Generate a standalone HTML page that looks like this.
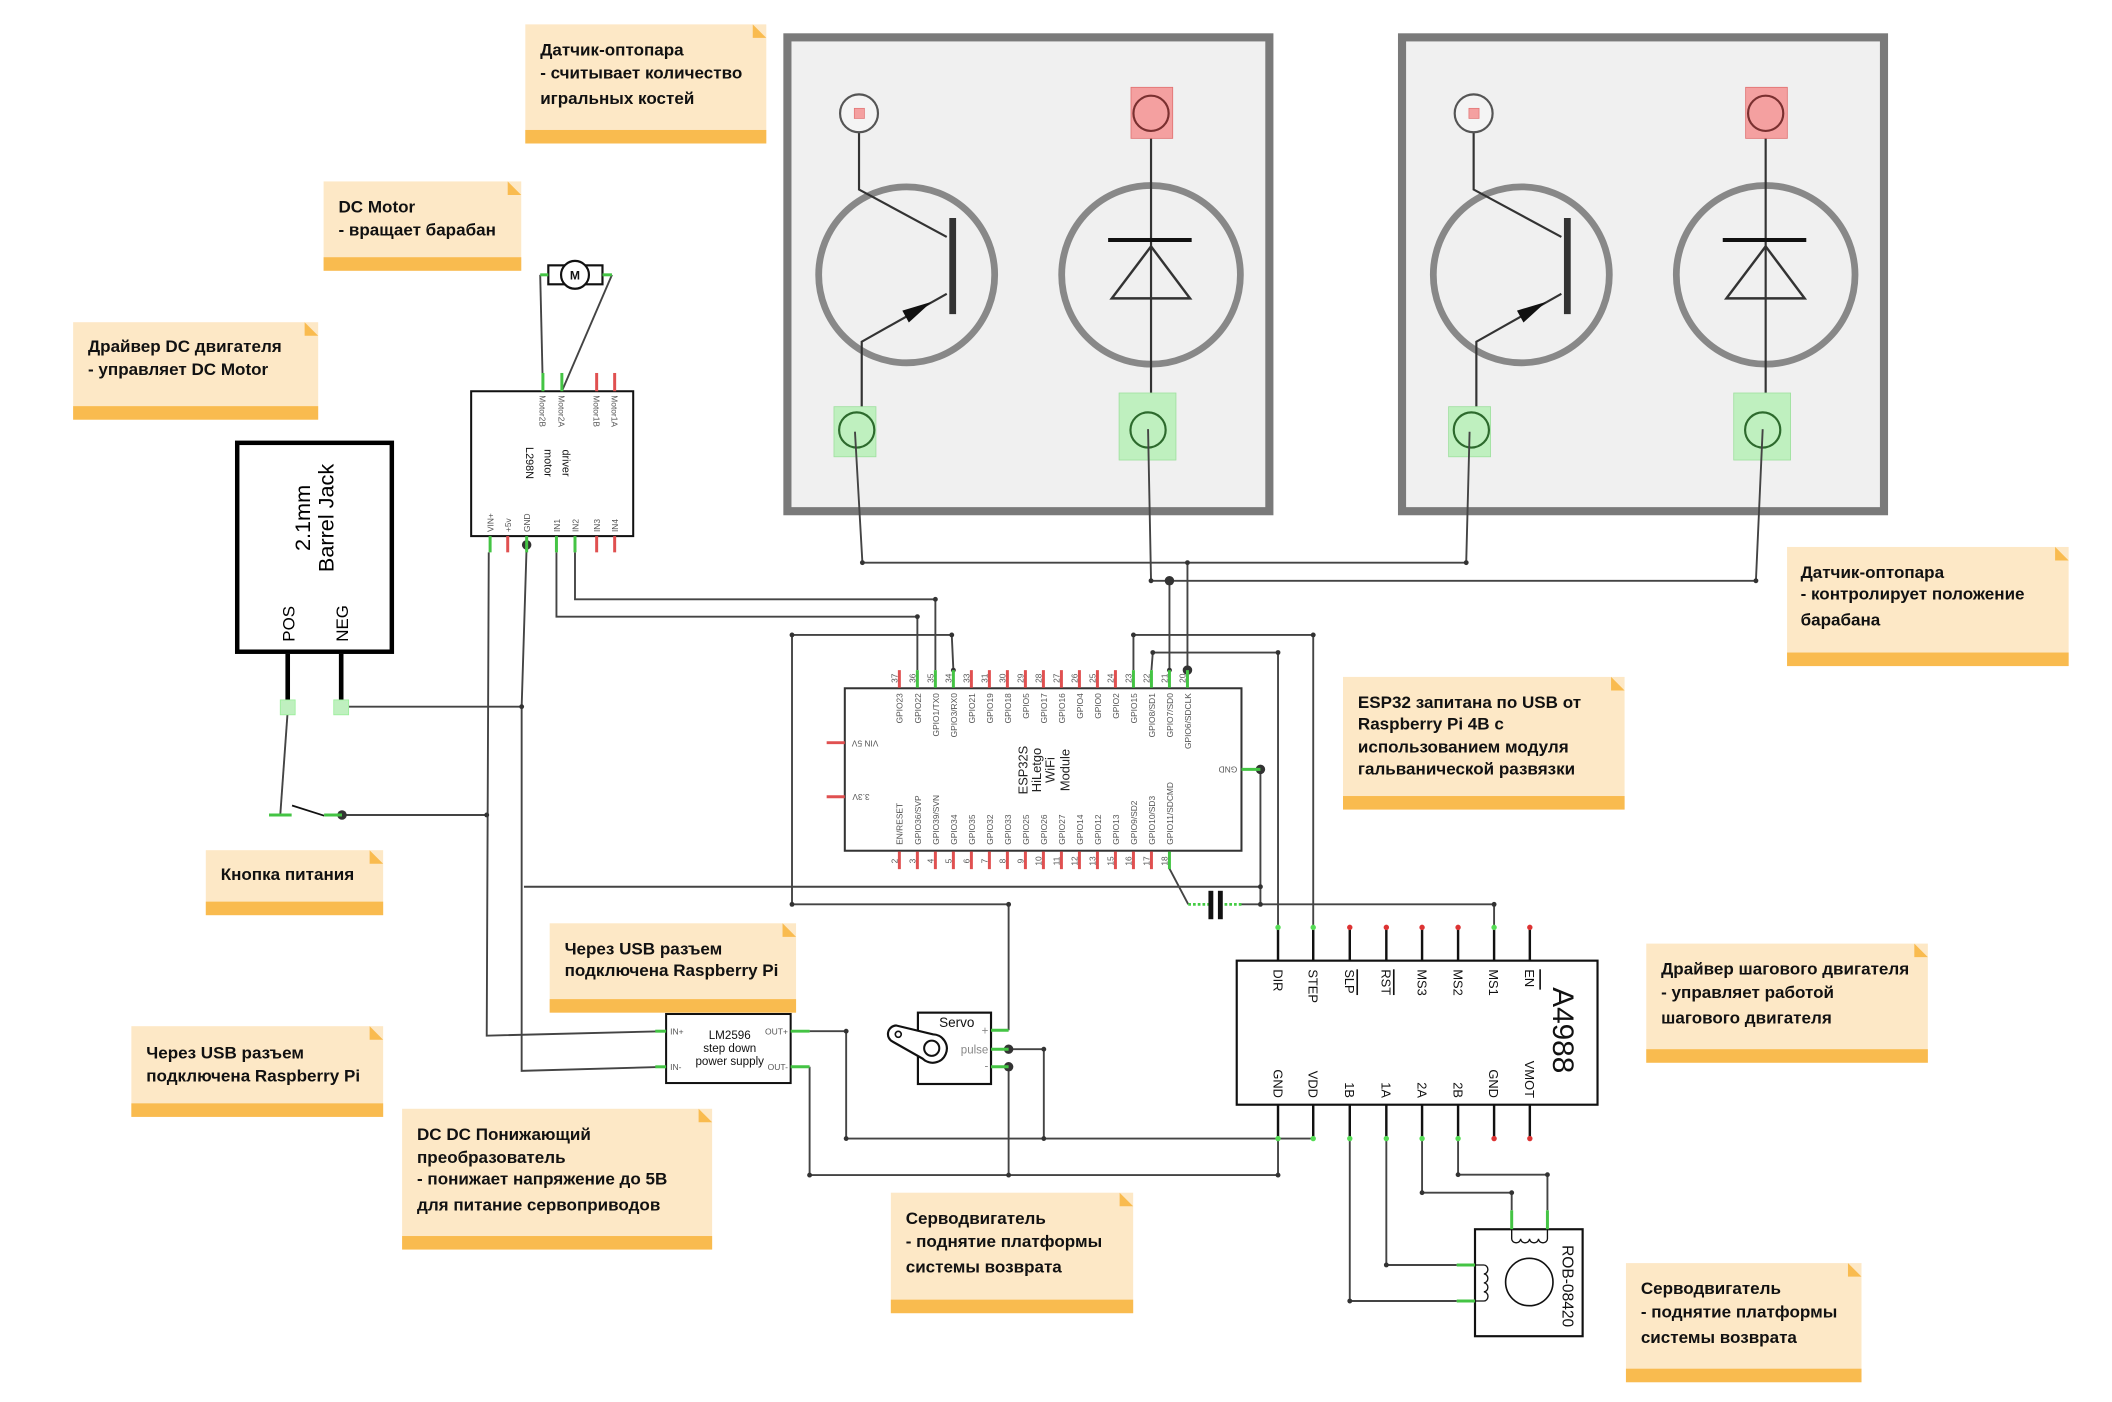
<!DOCTYPE html>
<html><head><meta charset="utf-8"><style>
html,body{margin:0;padding:0;background:#fff;}
svg{display:block;}
text{font-family:"Liberation Sans",sans-serif;}
.n{font-weight:bold;font-size:12.6px;fill:#111;}
.w{stroke:#444;stroke-width:1.4;fill:none;}
.pr{stroke:#e05050;stroke-width:2.2;}
.pg{stroke:#44c444;stroke-width:2.2;}
.pk{stroke:#111;stroke-width:1.8;}
.t6{font-size:6.2px;fill:#555;}
.t7{font-size:7px;fill:#333;}
.a{font-size:9.5px;fill:#111;}
</style></head><body>
<svg width="2112" height="1402" viewBox="0 0 1560 1035.6" xmlns="http://www.w3.org/2000/svg">
<rect width="1560" height="1036" fill="#fff"/>

<!-- NOTES -->
<g>
<rect x="388" y="18" width="178" height="88" fill="#fde8c6"/><rect x="388" y="96" width="178" height="10" fill="#f9bb4f"/><path d="M556 18 L566 28 L556 28 Z" fill="#f9bb4f"/>
<text class="n" x="399" y="41">Датчик-оптопара</text><text class="n" x="399" y="58">- считывает количество</text><text class="n" x="399" y="77">игральных костей</text>

<rect x="239" y="134" width="146" height="66" fill="#fde8c6"/><rect x="239" y="190" width="146" height="10" fill="#f9bb4f"/><path d="M375 134 L385 144 L375 144 Z" fill="#f9bb4f"/>
<text class="n" x="250" y="157">DC Motor</text><text class="n" x="250" y="174">- вращает барабан</text>

<rect x="54" y="238" width="181" height="72" fill="#fde8c6"/><rect x="54" y="300" width="181" height="10" fill="#f9bb4f"/><path d="M225 238 L235 248 L225 248 Z" fill="#f9bb4f"/>
<text class="n" x="65" y="260">Драйвер DC двигателя</text><text class="n" x="65" y="277">- управляет DC Motor</text>

<rect x="1320" y="404" width="208" height="88" fill="#fde8c6"/><rect x="1320" y="482" width="208" height="10" fill="#f9bb4f"/><path d="M1518 404 L1528 414 L1518 414 Z" fill="#f9bb4f"/>
<text class="n" x="1330" y="427">Датчик-оптопара</text><text class="n" x="1330" y="443">- контролирует положение</text><text class="n" x="1330" y="462">барабана</text>

<rect x="992" y="500" width="208" height="98" fill="#fde8c6"/><rect x="992" y="588" width="208" height="10" fill="#f9bb4f"/><path d="M1190 500 L1200 510 L1190 510 Z" fill="#f9bb4f"/>
<text class="n" x="1003" y="523">ESP32 запитана по USB от</text><text class="n" x="1003" y="539">Raspberry Pi 4B c</text><text class="n" x="1003" y="556">использованием модуля</text><text class="n" x="1003" y="572">гальванической развязки</text>

<rect x="152" y="628" width="131" height="48" fill="#fde8c6"/><rect x="152" y="666" width="131" height="10" fill="#f9bb4f"/><path d="M273 628 L283 638 L273 638 Z" fill="#f9bb4f"/>
<text class="n" x="163" y="650">Кнопка питания</text>

<rect x="406" y="682" width="182" height="66" fill="#fde8c6"/><rect x="406" y="738" width="182" height="10" fill="#f9bb4f"/><path d="M578 682 L588 692 L578 692 Z" fill="#f9bb4f"/>
<text class="n" x="417" y="705">Через USB разъем</text><text class="n" x="417" y="721">подключена Raspberry Pi</text>

<rect x="97" y="758" width="186" height="67" fill="#fde8c6"/><rect x="97" y="815" width="186" height="10" fill="#f9bb4f"/><path d="M273 758 L283 768 L273 768 Z" fill="#f9bb4f"/>
<text class="n" x="108" y="782">Через USB разъем</text><text class="n" x="108" y="799">подключена Raspberry Pi</text>

<rect x="297" y="819" width="229" height="104" fill="#fde8c6"/><rect x="297" y="913" width="229" height="10" fill="#f9bb4f"/><path d="M516 819 L526 829 L516 829 Z" fill="#f9bb4f"/>
<text class="n" x="308" y="842">DC DC Понижающий</text><text class="n" x="308" y="859">преобразователь</text><text class="n" x="308" y="875">- понижает напряжение до 5В</text><text class="n" x="308" y="894">для питание сервоприводов</text>

<rect x="658" y="881" width="179" height="89" fill="#fde8c6"/><rect x="658" y="960" width="179" height="10" fill="#f9bb4f"/><path d="M827 881 L837 891 L827 891 Z" fill="#f9bb4f"/>
<text class="n" x="669" y="904">Серводвигатель</text><text class="n" x="669" y="921">- поднятие платформы</text><text class="n" x="669" y="940">системы возврата</text>

<rect x="1216" y="697" width="208" height="88" fill="#fde8c6"/><rect x="1216" y="775" width="208" height="10" fill="#f9bb4f"/><path d="M1414 697 L1424 707 L1414 707 Z" fill="#f9bb4f"/>
<text class="n" x="1227" y="720">Драйвер шагового двигателя</text><text class="n" x="1227" y="737">- управляет работой</text><text class="n" x="1227" y="756">шагового двигателя</text>

<rect x="1201" y="933" width="174" height="88" fill="#fde8c6"/><rect x="1201" y="1011" width="174" height="10" fill="#f9bb4f"/><path d="M1365 933 L1375 943 L1365 943 Z" fill="#f9bb4f"/>
<text class="n" x="1212" y="956">Серводвигатель</text><text class="n" x="1212" y="973">- поднятие платформы</text><text class="n" x="1212" y="992">системы возврата</text>
</g>

<!-- OPTOCOUPLERS -->
<defs>
<g id="opto">
<rect x="581.6" y="27.6" width="356" height="350" fill="#f0f0f0" stroke="#7a7a7a" stroke-width="6"/>
<circle cx="669.7" cy="203" r="65" fill="none" stroke="#888" stroke-width="5"/>
<polyline points="634.5,96 634.5,140 699.3,175" fill="none" stroke="#333" stroke-width="1.6"/>
<line x1="703.7" y1="161" x2="703.7" y2="232" stroke="#333" stroke-width="5"/>
<polyline points="699.3,217 636.5,252.4 636.5,306" fill="none" stroke="#333" stroke-width="1.6"/>
<polygon points="688,223 671.3,238.2 666.5,229.4" fill="#111"/>
<circle cx="634.5" cy="83.7" r="14" fill="#f4f4f4" stroke="#555" stroke-width="1.6"/>
<rect x="631" y="80" width="7.5" height="7.5" fill="#f4a0a0" stroke="#e07070" stroke-width="0.5"/>
<rect x="616" y="300.4" width="31" height="37" fill="#bff0bf" stroke="#9ee09e" stroke-width="0.6"/>
<circle cx="632.8" cy="317.6" r="13" fill="#bff0bf" stroke="#2d6a2d" stroke-width="1.6"/>
<circle cx="850.2" cy="203" r="66" fill="none" stroke="#888" stroke-width="5"/>
<line x1="850.2" y1="95" x2="850.2" y2="306" stroke="#333" stroke-width="1.6"/>
<line x1="818.5" y1="177.3" x2="880.2" y2="177.3" stroke="#111" stroke-width="3"/>
<polygon points="850.2,182 821.2,220.4 879,220.4" fill="none" stroke="#333" stroke-width="1.8"/>
<rect x="835.4" y="64.5" width="30.8" height="37.7" fill="#f4a0a0" stroke="#e07070" stroke-width="0.6"/>
<circle cx="850.2" cy="83.7" r="13" fill="#f4a0a0" stroke="#7a3030" stroke-width="1.6"/>
<rect x="826.6" y="290.3" width="42" height="49.5" fill="#bff0bf" stroke="#9ee09e" stroke-width="0.6"/>
<circle cx="848" cy="317.6" r="13" fill="#bff0bf" stroke="#2d6a2d" stroke-width="1.6"/>
</g>
</defs>
<use href="#opto"/>
<use href="#opto" transform="translate(454,0)"/>

<!-- WIRES -->
<g class="w">
<polyline points="631.5,318.9 637,415.6 1083,415.6 1085.5,318.9"/>
<polyline points="848,317 850.2,429 1297,429 1302,317"/>
<polyline points="877.1,495 877.1,415.6"/>
<polyline points="863.8,495 863.8,429"/>
<polyline points="677.6,495 677.6,455.5 411,455.5 411,408"/>
<polyline points="690.9,495 690.9,442.7 424.7,442.7 424.7,408"/>
<polyline points="704.2,495 703,469 585,469 585,668 745,668 745,761"/>
<polyline points="837.2,495 837.2,469 970,469 970,684.5"/>
<polyline points="850.5,495 851.5,482 944,482 944,684.5"/>
<polyline points="863.7,641.4 877.7,668"/>
<polyline points="917,668 1103.6,668 1103.6,684.5"/>
<polyline points="917,568.3 931,568.3 931,668"/>
<polyline points="387,655 931,655"/>
<!-- motor -->
<line x1="399" y1="203" x2="401" y2="289"/>
<line x1="452" y1="203" x2="415" y2="289"/>
<!-- power -->
<polyline points="361,408 359.5,765 492,761.7"/>
<polyline points="389,402.5 385.3,522 385.3,791 492,788"/>
<polyline points="252,522 385.3,522"/>
<polyline points="252.6,602 359.5,602"/>
<polyline points="212.5,525 207,602"/>
<!-- LM2596 out -->
<polyline points="598,761.7 625,761.7 625,841 970,841"/>
<polyline points="598,788 598,868 944,868 944,841"/>
<polyline points="745,775 771,775 771,841"/>
<polyline points="745,788 745,868"/>
<!-- stepper -->
<polyline points="997,841 997,961 1076,961"/>
<polyline points="1024,841 1024,934.4 1076,934.4"/>
<polyline points="1050.4,841 1050.4,881 1116.6,881 1116.6,894"/>
<polyline points="1077,841 1077,867.7 1143,867.7 1143,894"/>
</g>
<!-- dots -->
<g fill="#333">
<circle cx="637" cy="415.6" r="1.8"/><circle cx="1083" cy="415.6" r="1.8"/><circle cx="877.1" cy="415.6" r="1.8"/>
<circle cx="850.2" cy="429" r="1.8"/><circle cx="863.8" cy="429" r="3.5"/><circle cx="1297" cy="429" r="1.8"/>
<circle cx="877.1" cy="495" r="3.5"/><circle cx="863.8" cy="495" r="1.8"/><circle cx="704.2" cy="495" r="1.8"/>
<circle cx="585" cy="469" r="1.8"/><circle cx="703" cy="469" r="1.8"/><circle cx="837.2" cy="469" r="1.8"/><circle cx="970" cy="469" r="1.8"/>
<circle cx="851.5" cy="482" r="1.8"/><circle cx="944" cy="482" r="1.8"/><circle cx="677.6" cy="455.5" r="1.8"/><circle cx="690.9" cy="442.7" r="1.8"/>
<circle cx="931" cy="568.3" r="3.5"/><circle cx="931" cy="668" r="1.8"/><circle cx="931" cy="655" r="1.8"/><circle cx="585" cy="668" r="1.8"/><circle cx="745" cy="668" r="1.8"/><circle cx="1103.6" cy="668" r="1.8"/>
<circle cx="389" cy="402.5" r="3.5"/><circle cx="385.3" cy="522" r="1.8"/><circle cx="252" cy="522" r="3.5"/><circle cx="252.6" cy="602" r="3.5"/><circle cx="359.5" cy="602" r="1.8"/>
<circle cx="625" cy="761.7" r="1.8"/><circle cx="598" cy="868" r="1.8"/><circle cx="745" cy="868" r="1.8"/><circle cx="944" cy="868" r="1.8"/><circle cx="625" cy="841" r="1.8"/><circle cx="771" cy="841" r="1.8"/><circle cx="771" cy="775" r="1.8"/>
<circle cx="745" cy="775" r="3.5"/><circle cx="745" cy="788" r="3.5"/>
<circle cx="1050.4" cy="881" r="1.8"/><circle cx="1116.6" cy="881" r="1.8"/><circle cx="1077" cy="867.7" r="1.8"/><circle cx="1143" cy="867.7" r="1.8"/><circle cx="1024" cy="934.4" r="1.8"/><circle cx="997" cy="961" r="1.8"/>
</g>

<!-- capacitor -->
<line x1="877.7" y1="668" x2="894" y2="668" stroke="#4c4" stroke-width="2" stroke-dasharray="2,1.5"/>
<line x1="901" y1="668" x2="917" y2="668" stroke="#4c4" stroke-width="2" stroke-dasharray="2,1.5"/>
<rect x="892.6" y="658" width="3.6" height="21" fill="#111"/>
<rect x="899.6" y="658" width="3.6" height="21" fill="#111"/>

<!-- ESP32 -->
<rect x="624" y="508.4" width="293" height="120" fill="#fff" stroke="#333" stroke-width="1.5"/>
<g>
<line class="pr" x1="664.3" y1="495" x2="664.3" y2="508"/><line class="pg" x1="677.6" y1="495" x2="677.6" y2="508"/><line class="pg" x1="690.9" y1="495" x2="690.9" y2="508"/><line class="pg" x1="704.2" y1="495" x2="704.2" y2="508"/><line class="pr" x1="717.5" y1="495" x2="717.5" y2="508"/><line class="pr" x1="730.8" y1="495" x2="730.8" y2="508"/><line class="pr" x1="744.1" y1="495" x2="744.1" y2="508"/><line class="pr" x1="757.4" y1="495" x2="757.4" y2="508"/><line class="pr" x1="770.7" y1="495" x2="770.7" y2="508"/><line class="pr" x1="784" y1="495" x2="784" y2="508"/><line class="pr" x1="797.3" y1="495" x2="797.3" y2="508"/><line class="pr" x1="810.6" y1="495" x2="810.6" y2="508"/><line class="pr" x1="823.9" y1="495" x2="823.9" y2="508"/><line class="pg" x1="837.2" y1="495" x2="837.2" y2="508"/><line class="pg" x1="850.5" y1="495" x2="850.5" y2="508"/><line class="pg" x1="863.8" y1="495" x2="863.8" y2="508"/><line class="pg" x1="877.1" y1="495" x2="877.1" y2="508"/>
<line class="pr" x1="664.3" y1="629" x2="664.3" y2="642"/><line class="pr" x1="677.6" y1="629" x2="677.6" y2="642"/><line class="pr" x1="690.9" y1="629" x2="690.9" y2="642"/><line class="pr" x1="704.2" y1="629" x2="704.2" y2="642"/><line class="pr" x1="717.5" y1="629" x2="717.5" y2="642"/><line class="pr" x1="730.8" y1="629" x2="730.8" y2="642"/><line class="pr" x1="744.1" y1="629" x2="744.1" y2="642"/><line class="pr" x1="757.4" y1="629" x2="757.4" y2="642"/><line class="pr" x1="770.7" y1="629" x2="770.7" y2="642"/><line class="pr" x1="784" y1="629" x2="784" y2="642"/><line class="pr" x1="797.3" y1="629" x2="797.3" y2="642"/><line class="pr" x1="810.6" y1="629" x2="810.6" y2="642"/><line class="pr" x1="823.9" y1="629" x2="823.9" y2="642"/><line class="pr" x1="837.2" y1="629" x2="837.2" y2="642"/><line class="pr" x1="850.5" y1="629" x2="850.5" y2="642"/><line class="pg" x1="863.8" y1="629" x2="863.8" y2="642"/>
<line class="pr" x1="610.6" y1="548.6" x2="624" y2="548.6"/><line class="pr" x1="610.6" y1="588.5" x2="624" y2="588.5"/><line class="pg" x1="917" y1="568.3" x2="931" y2="568.3"/>
</g>
<g class="t6" text-anchor="middle">
<text transform="translate(662.8,501) rotate(-90)">37</text><text transform="translate(676.1,501) rotate(-90)">36</text><text transform="translate(689.4,501) rotate(-90)">35</text><text transform="translate(702.7,501) rotate(-90)">34</text><text transform="translate(716,501) rotate(-90)">33</text><text transform="translate(729.3,501) rotate(-90)">31</text><text transform="translate(742.6,501) rotate(-90)">30</text><text transform="translate(755.9,501) rotate(-90)">29</text><text transform="translate(769.2,501) rotate(-90)">28</text><text transform="translate(782.5,501) rotate(-90)">27</text><text transform="translate(795.8,501) rotate(-90)">26</text><text transform="translate(809.1,501) rotate(-90)">25</text><text transform="translate(822.4,501) rotate(-90)">24</text><text transform="translate(835.7,501) rotate(-90)">23</text><text transform="translate(849,501) rotate(-90)">22</text><text transform="translate(862.3,501) rotate(-90)">21</text><text transform="translate(875.6,501) rotate(-90)">20</text>
<text transform="translate(662.8,636) rotate(-90)">2</text><text transform="translate(676.1,636) rotate(-90)">3</text><text transform="translate(689.4,636) rotate(-90)">4</text><text transform="translate(702.7,636) rotate(-90)">5</text><text transform="translate(716,636) rotate(-90)">6</text><text transform="translate(729.3,636) rotate(-90)">7</text><text transform="translate(742.6,636) rotate(-90)">8</text><text transform="translate(755.9,636) rotate(-90)">9</text><text transform="translate(769.2,636) rotate(-90)">10</text><text transform="translate(782.5,636) rotate(-90)">11</text><text transform="translate(795.8,636) rotate(-90)">12</text><text transform="translate(809.1,636) rotate(-90)">13</text><text transform="translate(822.4,636) rotate(-90)">15</text><text transform="translate(835.7,636) rotate(-90)">16</text><text transform="translate(849,636) rotate(-90)">17</text><text transform="translate(862.3,636) rotate(-90)">18</text>
</g>
<g class="t6" text-anchor="end" fill="#333">
<text transform="translate(666.8,512) rotate(-90)">GPIO23</text><text transform="translate(680.1,512) rotate(-90)">GPIO22</text><text transform="translate(693.4,512) rotate(-90)">GPIO1/TX0</text><text transform="translate(706.7,512) rotate(-90)">GPIO3/RX0</text><text transform="translate(720,512) rotate(-90)">GPIO21</text><text transform="translate(733.3,512) rotate(-90)">GPIO19</text><text transform="translate(746.6,512) rotate(-90)">GPIO18</text><text transform="translate(759.9,512) rotate(-90)">GPIO5</text><text transform="translate(773.2,512) rotate(-90)">GPIO17</text><text transform="translate(786.5,512) rotate(-90)">GPIO16</text><text transform="translate(799.8,512) rotate(-90)">GPIO4</text><text transform="translate(813.1,512) rotate(-90)">GPIO0</text><text transform="translate(826.4,512) rotate(-90)">GPIO2</text><text transform="translate(839.7,512) rotate(-90)">GPIO15</text><text transform="translate(853,512) rotate(-90)">GPIO8/SD1</text><text transform="translate(866.3,512) rotate(-90)">GPIO7/SD0</text><text transform="translate(879.6,512) rotate(-90)">GPIO6/SDCLK</text>
</g>
<g class="t6" text-anchor="start" fill="#333">
<text transform="translate(666.8,624) rotate(-90)">EN/RESET</text><text transform="translate(680.1,624) rotate(-90)">GPIO36/SVP</text><text transform="translate(693.4,624) rotate(-90)">GPIO39/SVN</text><text transform="translate(706.7,624) rotate(-90)">GPIO34</text><text transform="translate(720,624) rotate(-90)">GPIO35</text><text transform="translate(733.3,624) rotate(-90)">GPIO32</text><text transform="translate(746.6,624) rotate(-90)">GPIO33</text><text transform="translate(759.9,624) rotate(-90)">GPIO25</text><text transform="translate(773.2,624) rotate(-90)">GPIO26</text><text transform="translate(786.5,624) rotate(-90)">GPIO27</text><text transform="translate(799.8,624) rotate(-90)">GPIO14</text><text transform="translate(813.1,624) rotate(-90)">GPIO12</text><text transform="translate(826.4,624) rotate(-90)">GPIO13</text><text transform="translate(839.7,624) rotate(-90)">GPIO9/SD2</text><text transform="translate(853,624) rotate(-90)">GPIO10/SD3</text><text transform="translate(866.3,624) rotate(-90)">GPIO11/SDCMD</text>
</g>
<g class="t6" text-anchor="middle" fill="#333">
<text transform="translate(639,547) rotate(180)">VIN 5V</text>
<text transform="translate(636,586.5) rotate(180)">3.3V</text>
<text transform="translate(907,566.3) rotate(180)">GND</text>
</g>
<g font-family="'Liberation Mono',monospace" font-size="9.5" fill="#222" text-anchor="middle">
<text transform="translate(759,568.8) rotate(-90)">ESP32S</text>
<text transform="translate(769,568.8) rotate(-90)">HiLetgo</text>
<text transform="translate(779,568.8) rotate(-90)">WiFi</text>
<text transform="translate(790,568.8) rotate(-90)">Module</text>
</g>

<!-- A4988 -->
<rect x="913.5" y="709.6" width="266.5" height="106.4" fill="#fff" stroke="#111" stroke-width="1.6"/>
<g>
<line class="pk" x1="944" y1="684.5" x2="944" y2="709.6"/><line class="pk" x1="970" y1="684.5" x2="970" y2="709.6"/><line class="pk" x1="997" y1="684.5" x2="997" y2="709.6"/><line class="pk" x1="1024" y1="684.5" x2="1024" y2="709.6"/><line class="pk" x1="1050.4" y1="684.5" x2="1050.4" y2="709.6"/><line class="pk" x1="1077" y1="684.5" x2="1077" y2="709.6"/><line class="pk" x1="1103.6" y1="684.5" x2="1103.6" y2="709.6"/><line class="pk" x1="1130" y1="684.5" x2="1130" y2="709.6"/>
<line class="pk" x1="944" y1="816" x2="944" y2="841"/><line class="pk" x1="970" y1="816" x2="970" y2="841"/><line class="pk" x1="997" y1="816" x2="997" y2="841"/><line class="pk" x1="1024" y1="816" x2="1024" y2="841"/><line class="pk" x1="1050.4" y1="816" x2="1050.4" y2="841"/><line class="pk" x1="1077" y1="816" x2="1077" y2="841"/><line class="pk" x1="1103.6" y1="816" x2="1103.6" y2="841"/><line class="pk" x1="1130" y1="816" x2="1130" y2="841"/>
</g>
<g>
<circle cx="944" cy="685" r="2" fill="#5d5"/><circle cx="970" cy="685" r="2" fill="#5d5"/><circle cx="997" cy="685" r="2" fill="#d33"/><circle cx="1024" cy="685" r="2" fill="#d33"/><circle cx="1050.4" cy="685" r="2" fill="#d33"/><circle cx="1077" cy="685" r="2" fill="#d33"/><circle cx="1103.6" cy="685" r="2" fill="#5d5"/><circle cx="1130" cy="685" r="2" fill="#d33"/>
<circle cx="944" cy="841" r="2" fill="#5d5"/><circle cx="970" cy="841" r="2" fill="#5d5"/><circle cx="997" cy="841" r="2" fill="#5d5"/><circle cx="1024" cy="841" r="2" fill="#5d5"/><circle cx="1050.4" cy="841" r="2" fill="#5d5"/><circle cx="1077" cy="841" r="2" fill="#5d5"/><circle cx="1103.6" cy="841" r="2" fill="#d33"/><circle cx="1130" cy="841" r="2" fill="#d33"/>
</g>
<g class="a">
<text transform="translate(940.5,716) rotate(90)">DIR</text><text transform="translate(966.5,716) rotate(90)">STEP</text><text transform="translate(993.5,716) rotate(90)">SLP</text><text transform="translate(1020.5,716) rotate(90)">RST</text><text transform="translate(1047,716) rotate(90)">MS3</text><text transform="translate(1073.5,716) rotate(90)">MS2</text><text transform="translate(1100,716) rotate(90)">MS1</text><text transform="translate(1126.5,716) rotate(90)">EN</text>
</g>
<g class="a" text-anchor="end">
<text transform="translate(940.5,811) rotate(90)">GND</text><text transform="translate(966.5,811) rotate(90)">VDD</text><text transform="translate(993.5,811) rotate(90)">1B</text><text transform="translate(1020.5,811) rotate(90)">1A</text><text transform="translate(1047,811) rotate(90)">2A</text><text transform="translate(1073.5,811) rotate(90)">2B</text><text transform="translate(1100,811) rotate(90)">GND</text><text transform="translate(1126.5,811) rotate(90)">VMOT</text>
</g>
<line x1="1002.5" y1="716" x2="1002.5" y2="735" stroke="#111" stroke-width="1.2"/>
<line x1="1029.5" y1="716" x2="1029.5" y2="735" stroke="#111" stroke-width="1.2"/>
<line x1="1137.6" y1="716" x2="1137.6" y2="731" stroke="#111" stroke-width="1.2"/>
<text transform="translate(1147,761) rotate(90)" font-size="22" fill="#111" text-anchor="middle">A4988</text>

<!-- Stepper -->
<rect x="1089.5" y="908" width="79.5" height="79" fill="#fff" stroke="#111" stroke-width="1.6"/>
<circle cx="1129.6" cy="947" r="17.5" fill="none" stroke="#111" stroke-width="1.2"/>
<line class="pg" x1="1116.6" y1="894" x2="1116.6" y2="908"/><line class="pg" x1="1143" y1="894" x2="1143" y2="908"/>
<line class="pg" x1="1076" y1="934.4" x2="1089.5" y2="934.4"/><line class="pg" x1="1076" y1="961" x2="1089.5" y2="961"/>
<path d="M1116.6 908 V915 a3.3 3 0 0 0 6.6 0 a3.3 3 0 0 0 6.6 0 a3.3 3 0 0 0 6.6 0 a3.3 3 0 0 0 6.6 0 V908" fill="none" stroke="#111" stroke-width="1"/>
<path d="M1089.5 934.4 H1096 a3 3.3 0 0 1 0 6.6 a3 3.3 0 0 1 0 6.6 a3 3.3 0 0 1 0 6.6 a3 3.3 0 0 1 0 6.8 H1089.5" fill="none" stroke="#111" stroke-width="1"/>
<text transform="translate(1154,950) rotate(90)" font-size="11.5" fill="#111" text-anchor="middle">ROB-08420</text>

<!-- L298N -->
<rect x="348" y="289" width="119.7" height="107" fill="#fff" stroke="#111" stroke-width="1.5"/>
<line class="pg" x1="401" y1="275.5" x2="401" y2="289"/><line class="pg" x1="415" y1="275.5" x2="415" y2="289"/><line class="pr" x1="440.7" y1="275.5" x2="440.7" y2="289"/><line class="pr" x1="454" y1="275.5" x2="454" y2="289"/>
<line class="pg" x1="362" y1="396" x2="362" y2="408"/><line class="pr" x1="375" y1="396" x2="375" y2="408"/><line class="pg" x1="389" y1="396" x2="389" y2="408"/><line class="pg" x1="411" y1="396" x2="411" y2="408"/><line class="pg" x1="424.7" y1="396" x2="424.7" y2="408"/><line class="pr" x1="440.7" y1="396" x2="440.7" y2="408"/><line class="pr" x1="454" y1="396" x2="454" y2="408"/>
<g class="t6">
<text transform="translate(398.5,292) rotate(90)">Motor2B</text><text transform="translate(412.5,292) rotate(90)">Motor2A</text><text transform="translate(438.2,292) rotate(90)">Motor1B</text><text transform="translate(451.5,292) rotate(90)">Motor1A</text>
<text transform="translate(364.5,393) rotate(-90)">VIN+</text><text transform="translate(377.5,393) rotate(-90)">+5v</text><text transform="translate(391.5,393) rotate(-90)">GND</text><text transform="translate(413.5,393) rotate(-90)">IN1</text><text transform="translate(427.2,393) rotate(-90)">IN2</text><text transform="translate(443.2,393) rotate(-90)">IN3</text><text transform="translate(456.5,393) rotate(-90)">IN4</text>
</g>
<g font-size="8" fill="#111" text-anchor="middle">
<text transform="translate(388.5,342) rotate(90)">L298N</text><text transform="translate(402,342) rotate(90)">motor</text><text transform="translate(415.6,342) rotate(90)">driver</text>
</g>

<!-- DC motor -->
<rect x="405" y="196" width="40" height="14" fill="#fff" stroke="#111" stroke-width="1.6"/>
<circle cx="424.7" cy="203" r="10.3" fill="#fff" stroke="#111" stroke-width="1.6"/>
<text x="424.7" y="206.5" font-size="9" font-weight="bold" text-anchor="middle" fill="#111">M</text>
<line class="pg" x1="399" y1="203" x2="405" y2="203"/><line class="pg" x1="445" y1="203" x2="452" y2="203"/>

<!-- Barrel jack -->
<rect x="175.2" y="327.1" width="114.2" height="154.3" fill="#fff" stroke="#000" stroke-width="3.3"/>
<text transform="translate(229,382.6) rotate(-90)" font-size="16" text-anchor="middle" fill="#000">2.1mm</text>
<text transform="translate(246.5,382.6) rotate(-90)" font-size="16" text-anchor="middle" fill="#000">Barrel Jack</text>
<text transform="translate(217.5,474) rotate(-90)" font-size="12.5" fill="#000">POS</text>
<text transform="translate(257,474) rotate(-90)" font-size="12.5" fill="#000">NEG</text>
<line x1="212.5" y1="483" x2="212.5" y2="522" stroke="#000" stroke-width="3.4"/>
<line x1="252" y1="483" x2="252" y2="522" stroke="#000" stroke-width="3.4"/>
<rect x="207" y="517" width="11" height="11" fill="#bff0bf" stroke="#9e9" stroke-width="0.6"/>
<rect x="246.5" y="517" width="11" height="11" fill="#bff0bf" stroke="#9e9" stroke-width="0.6"/>
<!-- switch -->
<line class="pg" x1="198.7" y1="602" x2="215.4" y2="602"/>
<line x1="215.7" y1="595" x2="239.4" y2="602.5" stroke="#111" stroke-width="1.3"/>
<line class="pg" x1="239.4" y1="602" x2="252.6" y2="602"/>

<!-- LM2596 -->
<rect x="492" y="749" width="92" height="51" fill="#fff" stroke="#111" stroke-width="1.5"/>
<line class="pg" x1="484" y1="761.7" x2="492" y2="761.7"/><line class="pg" x1="484" y1="788" x2="492" y2="788"/>
<line class="pg" x1="584" y1="761.7" x2="598" y2="761.7"/><line class="pg" x1="584" y1="788" x2="598" y2="788"/>
<g font-size="8.6" fill="#111" text-anchor="middle">
<text x="539" y="767.5">LM2596</text><text x="539" y="777">step down</text><text x="539" y="786.5">power supply</text>
</g>
<g font-size="6.3" fill="#555"><text x="495" y="764">IN+</text><text x="495" y="790.5">IN-</text><text x="582" y="764" text-anchor="end">OUT+</text><text x="582" y="790.5" text-anchor="end">OUT-</text></g>

<!-- Servo -->
<rect x="678" y="748" width="54" height="52.7" fill="#fff" stroke="#111" stroke-width="1.6"/>
<line class="pg" x1="732" y1="761" x2="745" y2="761"/><line class="pg" x1="732" y1="775" x2="745" y2="775"/><line class="pg" x1="732" y1="788" x2="745" y2="788"/>
<text x="706.7" y="758.5" font-size="10" text-anchor="middle" fill="#111">Servo</text>
<text x="730" y="764" font-size="8.5" text-anchor="end" fill="#888">+</text>
<text x="730" y="778" font-size="8.5" text-anchor="end" fill="#888">pulse</text>
<text x="730" y="790" font-size="8.5" text-anchor="end" fill="#888">-</text>
<path d="M662 757.5 L689 764 A10.5 10.5 0 1 1 681.5 782 L659.5 769.5 A6.3 6.3 0 0 1 662 757.5 Z" fill="#fff" stroke="#111" stroke-width="1.6"/>
<circle cx="688.2" cy="774.3" r="5.6" fill="#fff" stroke="#111" stroke-width="1.5"/>
<circle cx="663.5" cy="764" r="2.2" fill="#fff" stroke="#111" stroke-width="1.2"/>
</svg>
</body></html>
